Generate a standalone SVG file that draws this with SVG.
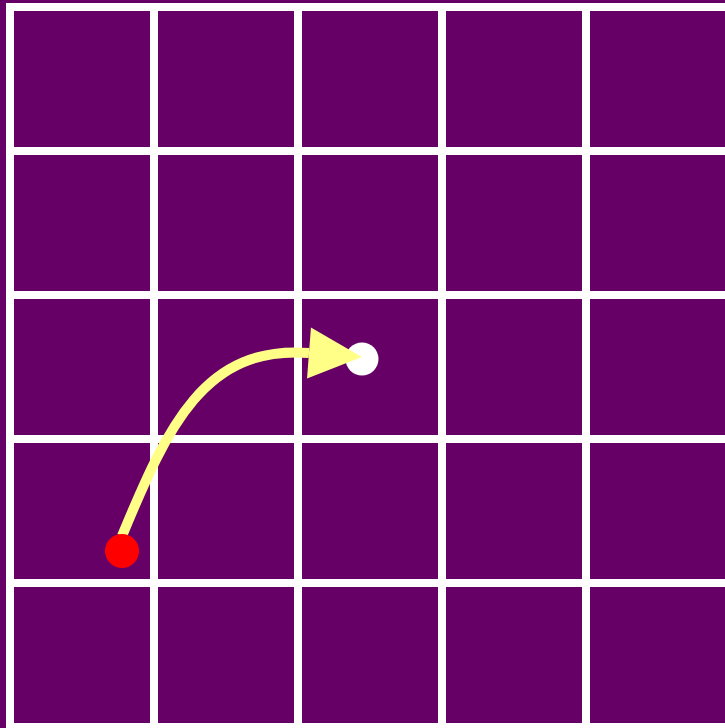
<svg xmlns="http://www.w3.org/2000/svg" width="725" height="728" viewBox="0 0 725 728">
<style>
.bg{fill:#660066}
.line{fill:#ffffff}
.conn{fill:none;stroke:#ffff88;stroke-width:10}
</style>
<defs>
<marker id="arrow" markerUnits="userSpaceOnUse" markerWidth="60" markerHeight="60" refX="0" refY="25.5" orient="auto" overflow="visible">
<path d="M0,0 L53,25.5 L0,51 z" fill="#ffff88"/>
</marker>
</defs>
<rect class="bg" x="0" y="0" width="725" height="728"/>
<g id="grid">
<rect class="line" x="6" y="3" width="8" height="725"/>
<rect class="line" x="150" y="3" width="8" height="725"/>
<rect class="line" x="294" y="3" width="8" height="725"/>
<rect class="line" x="438" y="3" width="8" height="725"/>
<rect class="line" x="582" y="3" width="8" height="725"/>
<rect class="line" x="6" y="3" width="719" height="8"/>
<rect class="line" x="6" y="147" width="719" height="8"/>
<rect class="line" x="6" y="291" width="719" height="8"/>
<rect class="line" x="6" y="435" width="719" height="8"/>
<rect class="line" x="6" y="579" width="719" height="8"/>
<rect class="line" x="6" y="723" width="719" height="8"/>
</g>
<g id="end">
<circle cx="362" cy="359" r="16.5" fill="#ffffff"/>
</g>
<g id="connectors">
<path class="conn" d="M122,536 C168,425 205,345 309,353" marker-end="url(#arrow)"/>
</g>
<g id="start">
<circle cx="122" cy="551" r="17" fill="#ff0000"/>
</g>
</svg>
